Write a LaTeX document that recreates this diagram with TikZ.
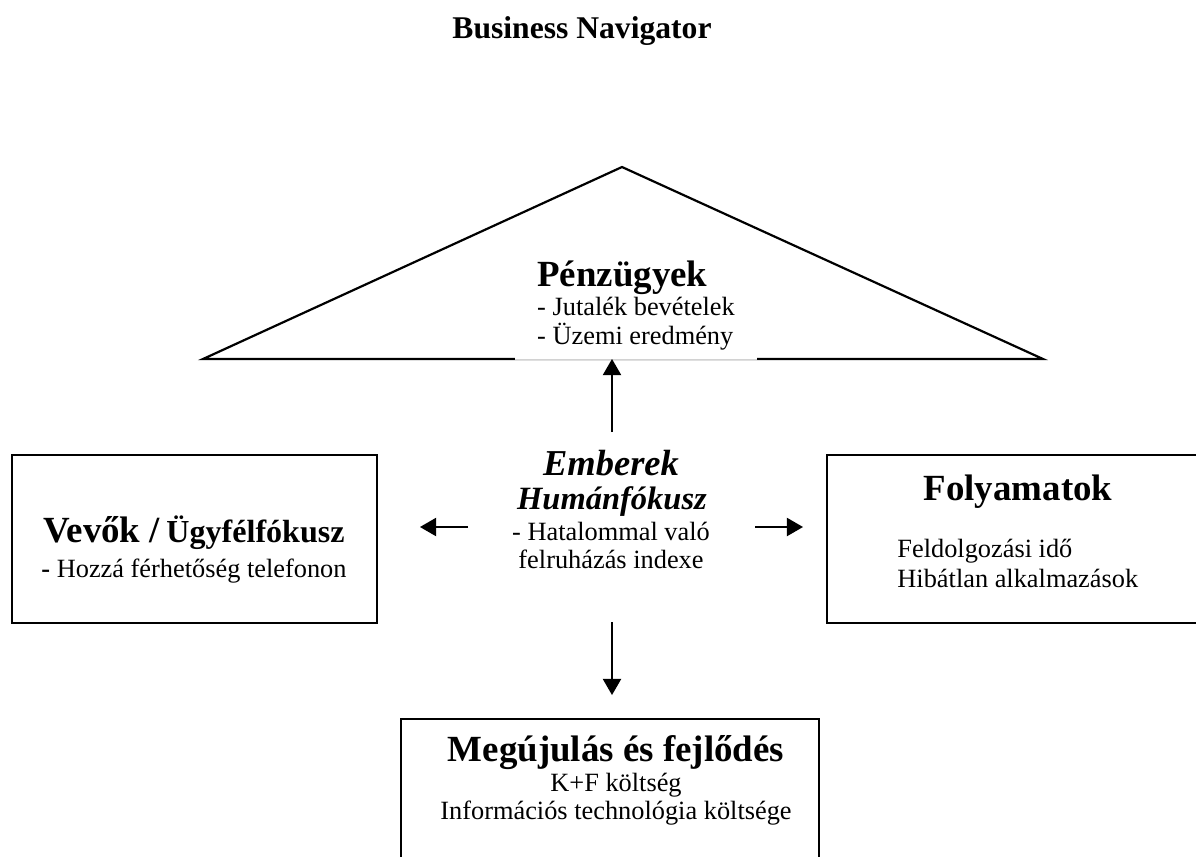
\documentclass[tikz,border=0pt]{standalone}
\usepackage{fontspec}
\setmainfont{Liberation Serif}
\usetikzlibrary{arrows,positioning}

\tikzset{
  frame/.style={draw, line width=1pt, inner sep=0pt},
  txt/.style={anchor=base, inner sep=0pt},
  arr/.style={line width=1pt, -triangle 60},
}
\newcommand{\headfont}{\fontsize{16.8}{19}\selectfont\bfseries}
\newcommand{\subheadfont}{\fontsize{14.6}{17}\selectfont\bfseries}

\begin{document}
\begin{tikzpicture}[x=0.016cm, y=-0.016cm, font=\fontsize{12}{13.2}\selectfont]
\clip (0,0) rectangle (1196,856);

\node[txt] (title) at (582,38) {\fontsize{14.4}{17}\selectfont\bfseries Business Navigator};

% roof
\draw[line width=1pt] (203,359) -- (622,167) -- (1043,359) -- cycle;
\node[fill=white, inner xsep=10pt, inner ysep=3.8pt, align=left, anchor=south] (penz) at (636,359)
  {{\headfont Pénzügyek}\\- Jutalék bevételek\\- Üzemi eredmény};
\draw[gray!35, line width=0.4pt] (penz.south west) -- (penz.south east);

% left box
\node[frame, minimum width=5.84cm, minimum height=2.688cm] (vevo) at (194.5,539) {};
\node[txt] (vevoH) at (194,542) {{\headfont Vevők /} {\subheadfont Ügyfélfókusz}};
\node[txt] (vevoA) at (194,577) {\textbf{-} Hozzá férhetőség telefonon};

% right box
\node[frame, minimum width=6.112cm, minimum height=2.688cm] (foly) at (1018,539) {};
\node[txt] (folyH) at (1018,500) {\headfont Folyamatok};
\node[txt, anchor=base west] (folyA) at (897,557) {Feldolgozási idő};
\node[txt, anchor=base west] (folyB) at (897,587) {Hibátlan alkalmazások};

% bottom box
\node[frame, minimum width=6.688cm, minimum height=2.576cm] (megu) at (610,799.5) {};
\node[txt] (meguH) at (616,761) {\headfont Megújulás és fejlődés};
\node[txt] (meguA) at (616,791) {K+F költség};
\node[txt] (meguB) at (616,819) {Információs technológia költsége};

% centre
\node[txt] (emb) at (611,475) {\fontsize{16.6}{19}\selectfont\bfseries\itshape Emberek};
\node[txt] (hum) at (612,509) {\fontsize{14.8}{17}\selectfont\bfseries\itshape Humánfókusz};
\node[txt] (hat) at (611,540) {- Hatalommal való};
\node[txt] (felr) at (611,568) {felruházás indexe};

% arrows
\coordinate (upS) at (612,432);
\coordinate (leftS) at (468,527);
\coordinate (leftE) at (420,527);
\coordinate (rightS) at (755,527);
\coordinate (rightE) at (803,527);
\coordinate (downS) at (612,622);
\coordinate (downE) at (612,695);
\draw[arr] (upS) -- (upS |- penz.south);
\draw[arr] (leftS) -- (leftE);
\draw[arr] (rightS) -- (rightE);
\draw[arr] (downS) -- (downE);
\end{tikzpicture}
\end{document}
